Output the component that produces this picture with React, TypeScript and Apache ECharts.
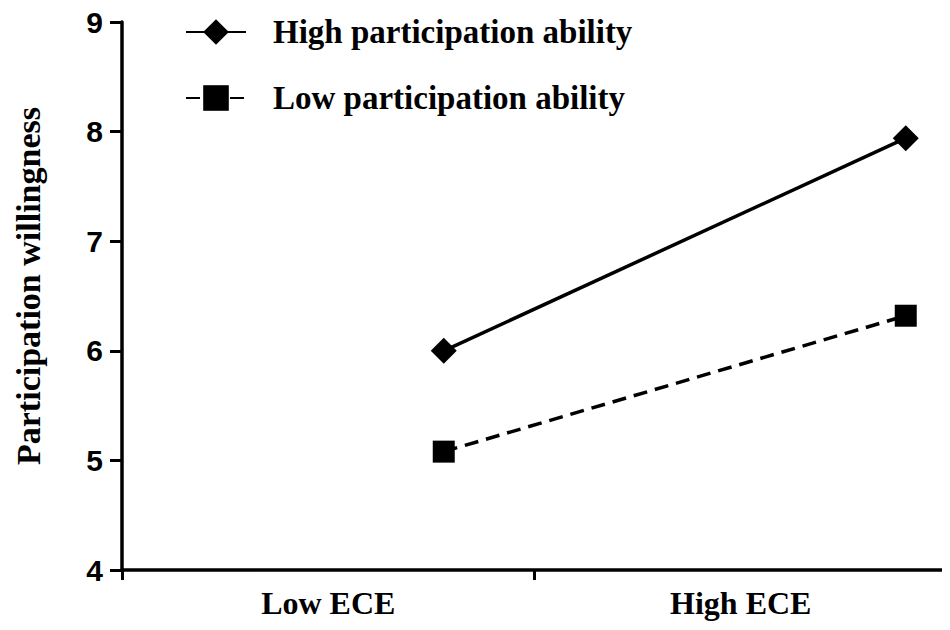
import React, { useEffect, useRef } from "react";
import * as echarts from "echarts";

const categories = ["Low ECE", "High ECE"];
const xPositions = [0.78, 1.9];
const highAbility = [6.0, 7.94];
const lowAbility = [5.08, 6.32];
const yTicks = [4, 5, 6, 7, 8, 9];

const serif = "'Liberation Serif', 'Times New Roman', serif";
const sans = "'Liberation Sans', Arial, sans-serif";

export default function App() {
  const ref = useRef<HTMLDivElement>(null);
  useEffect(() => {
    if (!ref.current) return;
    const chart = echarts.init(ref.current, undefined, { renderer: "svg" });
    const axisLine = { show: true, lineStyle: { color: "#000", width: 3.5 } };
    chart.setOption({
      animation: false,
      backgroundColor: "#fff",
      grid: { left: 122, right: 3, top: 22, bottom: 60 },
      legend: {
        orient: "vertical",
        left: 180,
        top: 9,
        itemWidth: 60,
        itemHeight: 32,
        itemGap: 30,
        data: ["High participation ability", "Low participation ability"],
        textStyle: {
          fontFamily: serif,
          fontWeight: "bold",
          fontSize: 33,
          lineHeight: 36,
          color: "#000",
          padding: [0, 0, 0, 22],
        },
      },
      xAxis: [
        {
          type: "category",
          data: categories,
          boundaryGap: true,
          axisLine,
          axisTick: { show: true, length: 10, lineStyle: { color: "#000", width: 3 } },
          axisLabel: {
            margin: 17,
            fontFamily: serif,
            fontWeight: "bold",
            fontSize: 32,
            color: "#000",
          },
          splitLine: { show: false },
        },
        {
          type: "value",
          min: 0,
          max: 2,
          show: false,
          position: "bottom",
        },
      ],
      yAxis: {
        type: "value",
        min: yTicks[0],
        max: yTicks[yTicks.length - 1],
        interval: 1,
        name: "Participation willingness",
        nameLocation: "middle",
        nameGap: 77,
        nameTextStyle: {
          fontFamily: serif,
          fontWeight: "bold",
          fontSize: 34,
          color: "#000",
          padding: [0, 0, 0, 20],
        },
        axisLine,
        axisTick: { show: true, length: 12, lineStyle: { color: "#000", width: 3 } },
        axisLabel: {
          margin: 19,
          fontFamily: sans,
          fontWeight: "bold",
          fontSize: 30,
          color: "#000",
        },
        splitLine: { show: false },
      },
      series: [
        {
          name: "High participation ability",
          type: "line",
          xAxisIndex: 1,
          data: xPositions.map((x, i) => [x, highAbility[i]]),
          symbol: "diamond",
          symbolSize: 26,
          itemStyle: { color: "#000" },
          lineStyle: { color: "#000", width: 3.5 },
        },
        {
          name: "Low participation ability",
          type: "line",
          xAxisIndex: 1,
          data: xPositions.map((x, i) => [x, lowAbility[i]]),
          symbol: "rect",
          symbolSize: 22,
          itemStyle: { color: "#000" },
          lineStyle: { color: "#000", width: 3.5, type: [14, 8] },
        },
      ],
    });
    return () => chart.dispose();
  }, []);
  return <div ref={ref} style={{ width: 950, height: 630, margin: -8 }} />;
}
